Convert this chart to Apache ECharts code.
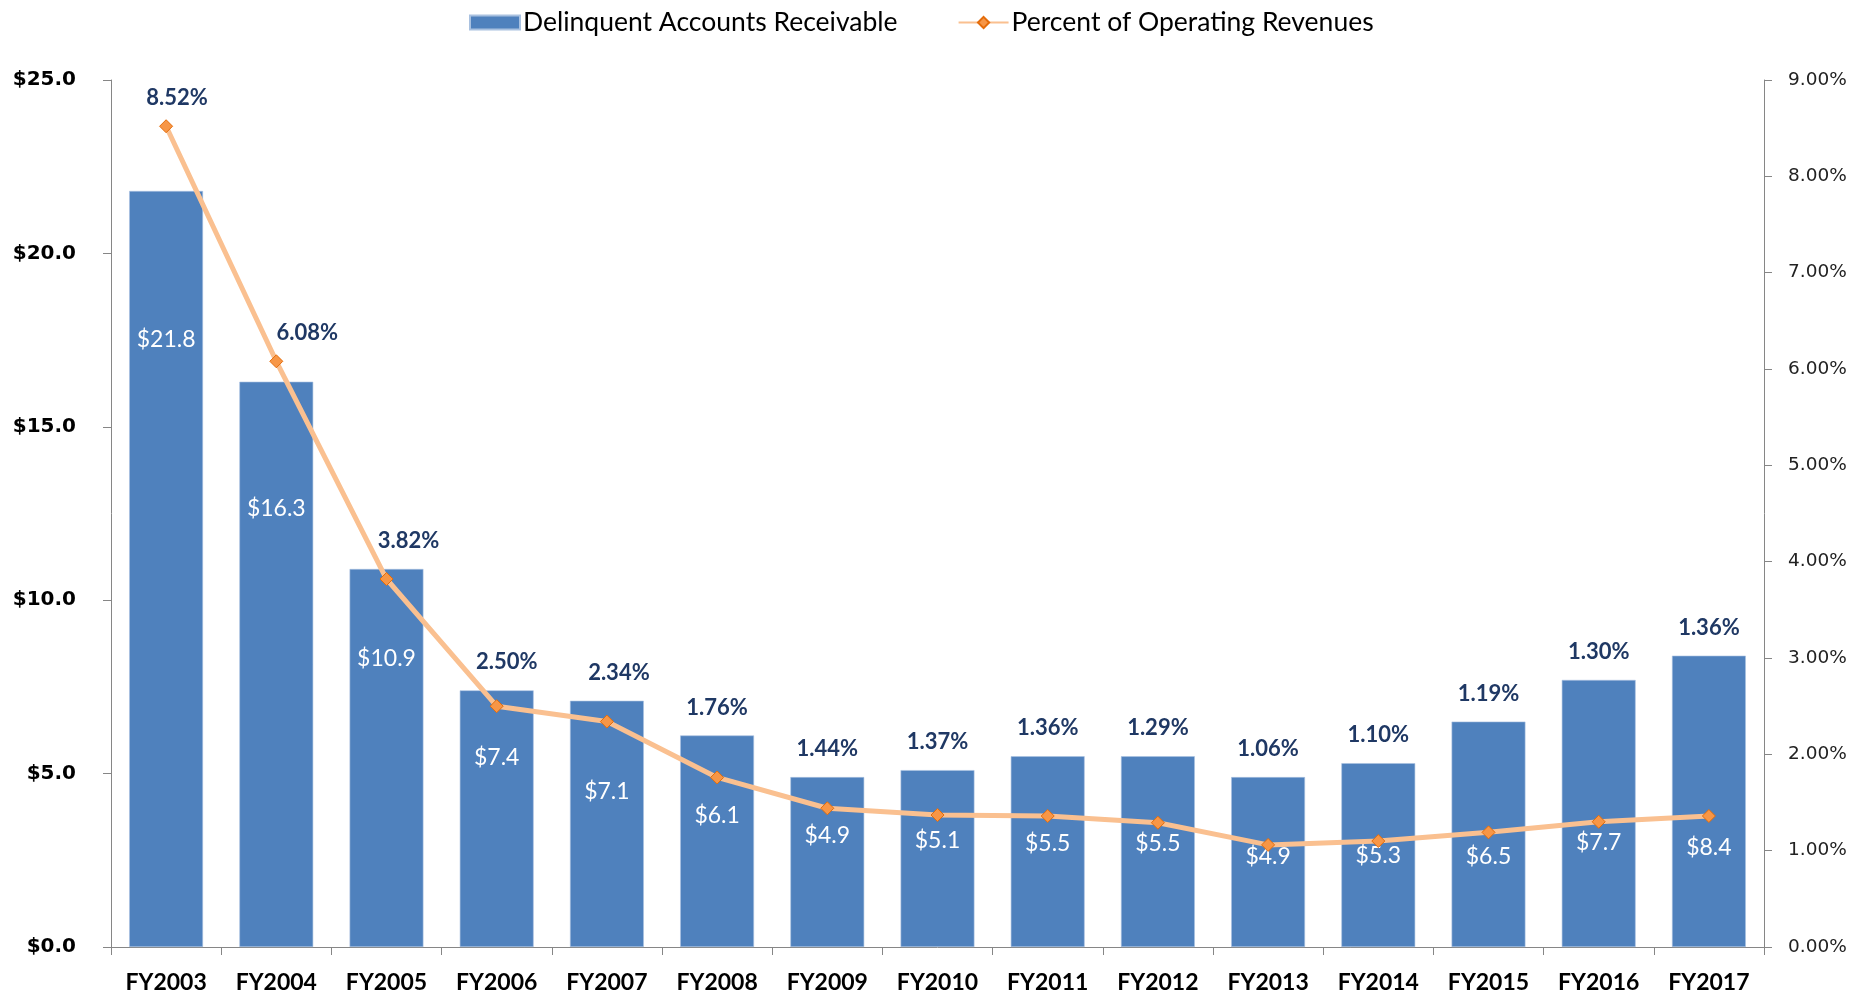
<!DOCTYPE html>
<html>
<head>
<meta charset="utf-8">
<script src="https://cdn.jsdelivr.net/npm/echarts@6/dist/echarts.min.js"></script>
<style>
html,body{margin:0;padding:0;background:#fff;}
#chart{width:1875px;height:997px;}
</style>
</head>
<body>
<div id="chart"></div>
<script>
// ---- data ----
const categories = ['FY2003','FY2004','FY2005','FY2006','FY2007','FY2008','FY2009','FY2010','FY2011','FY2012','FY2013','FY2014','FY2015','FY2016','FY2017'];
const receivables = [21.8, 16.3, 10.9, 7.4, 7.1, 6.1, 4.9, 5.1, 5.5, 5.5, 4.9, 5.3, 6.5, 7.7, 8.4];
const percentRevenue = [8.52, 6.08, 3.82, 2.50, 2.34, 1.76, 1.44, 1.37, 1.36, 1.29, 1.06, 1.10, 1.19, 1.30, 1.36];
const leftTicks = {min: 0, max: 25, interval: 5};
const rightTicks = {min: 0, max: 9, interval: 1};

// ---- label styling (positions of text inside bars, as fraction of bar height from top) ----
const barLabelPos = [0.197, 0.224, 0.237, 0.26, 0.369, 0.379, 0.345, 0.40, 0.456, 0.456, 0.47, 0.50, 0.60, 0.61, 0.66];
const pctLabelNudgeX = [11, 31, 22, 10, 12, 0, 0, 0, 0, 0, 0, 0, 0, 0, 0];

const FONT = 'Lato';
const chart = echarts.init(document.getElementById('chart'), null, {renderer: 'canvas'});

const barData = receivables.map((v, i) => ({
  value: v,
  label: {position: ['50%', (barLabelPos[i] * 100).toFixed(1) + '%']}
}));

function buildOption(lineData) {
  return {
    animation: false,
    backgroundColor: '#fff',
    grid: {left: 111, right: 111, top: 80, bottom: 50, containLabel: false},
    legend: {
      top: 4, left: 464, itemGap: 60, itemWidth: 50, itemHeight: 14,
      textStyle: {fontFamily: FONT, fontSize: 26.5, color: '#000', padding: [0, 0, 0, -2]},
      data: [
        {name: 'Delinquent Accounts Receivable', icon: 'rect'},
        {name: 'Percent of Operating Revenues'}
      ]
    },
    xAxis: {
      type: 'category', data: categories, boundaryGap: true,
      axisLine: {lineStyle: {color: '#868686', width: 1}},
      axisTick: {show: true, length: 8, alignWithLabel: false, lineStyle: {color: '#868686'}},
      axisLabel: {margin: 24, fontFamily: FONT, fontSize: 23, fontWeight: 'bold', color: '#000'}
    },
    yAxis: [
      {
        type: 'value', min: leftTicks.min, max: leftTicks.max, interval: leftTicks.interval,
        splitLine: {show: false},
        axisLine: {show: true, lineStyle: {color: '#868686'}},
        axisTick: {show: true, length: 8, lineStyle: {color: '#868686'}},
        axisLabel: {margin: 35, fontFamily: 'DejaVu Sans', fontSize: 20, fontWeight: 'bold', color: '#000',
          formatter: v => '$' + v.toFixed(1)}
      },
      {
        type: 'value', min: rightTicks.min, max: rightTicks.max, interval: rightTicks.interval,
        position: 'right',
        splitLine: {show: false},
        axisLine: {show: true, lineStyle: {color: '#868686'}},
        axisTick: {show: true, length: 8, lineStyle: {color: '#868686'}},
        axisLabel: {margin: 24, fontFamily: 'DejaVu Sans', fontSize: 18.5, color: '#222',
          formatter: v => v.toFixed(2) + '%'}
      }
    ],
    series: [
      {
        name: 'Delinquent Accounts Receivable', type: 'bar', yAxisIndex: 0,
        data: barData, barCategoryGap: '33%',
        itemStyle: {color: '#4F81BD', borderColor: '#A9C1E0', borderWidth: 0.6},
        label: {show: true, align: 'center', verticalAlign: 'middle',
          fontFamily: FONT, fontSize: 23, color: '#fff',
          formatter: p => '$' + p.value.toFixed(1)},
        z: 2
      },
      {
        name: 'Percent of Operating Revenues', type: 'line', yAxisIndex: 1,
        data: lineData,
        lineStyle: {color: '#FAC090', width: 5},
        itemStyle: {color: '#F79646', borderColor: '#E46C0A', borderWidth: 1},
        symbol: 'diamond', symbolSize: 13,
        label: {show: true, position: 'top', distance: 10,
          fontFamily: FONT, fontSize: 22, fontWeight: 'bold', color: '#1F3864',
          formatter: p => p.value.toFixed(2) + '%'},
        z: 3
      }
    ]
  };
}

chart.setOption(buildOption(percentRevenue.slice()));

// place the percent labels above whichever is higher: the bar top or the point
const lineData = percentRevenue.map((v, i) => {
  const barY = chart.convertToPixel({xAxisIndex: 0, yAxisIndex: 0}, [i, receivables[i]])[1];
  const ptY = chart.convertToPixel({xAxisIndex: 0, yAxisIndex: 1}, [i, v])[1];
  const dy = Math.min(0, barY - ptY);
  return {value: v, label: {offset: [pctLabelNudgeX[i], dy]}};
});
chart.setOption(buildOption(lineData));
</script>
</body>
</html>
